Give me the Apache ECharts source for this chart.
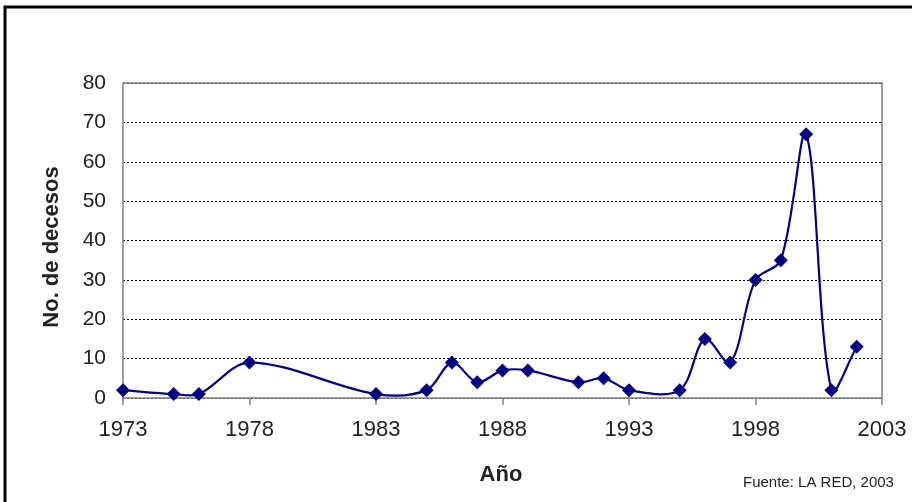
<!DOCTYPE html>
<html>
<head>
<meta charset="utf-8">
<script src="https://cdn.jsdelivr.net/npm/echarts@6/dist/echarts.min.js"></script>
<style>
  html, body { margin: 0; padding: 0; background: #fff; }
  #chart { width: 912px; height: 502px; }
</style>
</head>
<body>
<div id="chart"></div>
<script>
// Deaths per year
const years  = [1973, 1975, 1976, 1978, 1983, 1985, 1986, 1987, 1988, 1989, 1991, 1992, 1993, 1995, 1996, 1997, 1998, 1999, 2000, 2001, 2002];
const deaths = [2, 1, 1, 9, 1, 2, 9, 4, 7, 7, 4, 5, 2, 2, 15, 9, 30, 35, 67, 2, 13];
const yearStart = 1973;
const yearEnd = 2003;
const yTicks = [0, 10, 20, 30, 40, 50, 60, 70, 80];

// x is measured in years since the first year so ticks land on 1973, 1978, ...
const points = years.map((y, i) => [y - yearStart, deaths[i]]);

const NAVY = '#000080';
const font = '"Liberation Sans", Arial, sans-serif';

// Spreadsheet-style smoothed segment between point i and i+1:
// tangents follow the neighbours, weighted by segment lengths, no clamping.
function renderSegment(params, api) {
  const i = params.dataIndex;
  if (i >= points.length - 1) return null;
  const P = points.map(p => api.coord(p));
  const p0 = P[Math.max(i - 1, 0)], p1 = P[i], p2 = P[i + 1], p3 = P[Math.min(i + 2, P.length - 1)];
  const dist = (a, b) => Math.hypot(b[0] - a[0], b[1] - a[1]);
  const k = 1 / 3;
  const d01 = dist(p0, p1), d12 = dist(p1, p2), d23 = dist(p2, p3);
  const r1 = (d01 + d12) > 0 ? d12 / (d01 + d12) : 0;
  const r2 = (d12 + d23) > 0 ? d12 / (d12 + d23) : 0;
  const c1 = [p1[0] + (p2[0] - p0[0]) * k * r1, p1[1] + (p2[1] - p0[1]) * k * r1];
  const c2 = [p2[0] - (p3[0] - p1[0]) * k * r2, p2[1] - (p3[1] - p1[1]) * k * r2];
  return {
    type: 'bezierCurve',
    shape: { x1: p1[0], y1: p1[1], cpx1: c1[0], cpy1: c1[1], cpx2: c2[0], cpy2: c2[1], x2: p2[0], y2: p2[1] },
    style: { stroke: NAVY, lineWidth: 2.2, fill: 'none' }
  };
}

const chart = echarts.init(document.getElementById('chart'), null, { renderer: 'canvas' });

chart.setOption({
  backgroundColor: '#ffffff',
  animation: false,
  grid: { left: 123, right: 30, top: 83, bottom: 104, show: false },
  xAxis: {
    type: 'value',
    min: 0,
    max: yearEnd - yearStart,
    interval: 5,
    axisLine: { show: true, lineStyle: { color: '#808080', width: 1.5 } },
    axisTick: { show: true, length: 7, lineStyle: { color: '#808080', width: 1.5 } },
    axisLabel: {
      margin: 21,
      fontFamily: font, fontSize: 22, color: '#222',
      formatter: v => String(v + yearStart)
    },
    splitLine: { show: false }
  },
  yAxis: {
    type: 'value',
    min: yTicks[0],
    max: yTicks[yTicks.length - 1],
    interval: 10,
    axisLine: { show: true, lineStyle: { color: '#808080', width: 1.5 } },
    axisTick: { show: false },
    axisLabel: { margin: 17, fontFamily: font, fontSize: 21, color: '#222' },
    splitLine: { show: true, lineStyle: { color: '#000', width: 1, type: [2, 2] } }
  },
  graphic: [
    // outer frame
    { type: 'rect', shape: { x: 5, y: 7, width: 940, height: 540 },
      style: { fill: 'none', stroke: '#000', lineWidth: 3 }, z: 10 },
    // top and right edges of the plot area
    { type: 'polyline', shape: { points: [[123, 83], [882, 83], [882, 398]] },
      style: { fill: 'none', stroke: '#808080', lineWidth: 1.5 }, z: 1 },
    { type: 'text', x: 52, y: 247, rotation: Math.PI / 2,
      style: { text: 'No. de decesos', font: 'bold 22px ' + font, fill: '#222', align: 'center', verticalAlign: 'middle' } },
    { type: 'text', x: 501, y: 475,
      style: { text: 'Año', font: 'bold 22px ' + font, fill: '#222', align: 'center', verticalAlign: 'middle' } },
    { type: 'text', x: 743, y: 483,
      style: { text: 'Fuente: LA RED, 2003', font: '15px ' + font, fill: '#222', align: 'left', verticalAlign: 'middle' } }
  ],
  series: [
    {
      type: 'custom',
      data: points,
      renderItem: renderSegment,
      encode: { x: 0, y: 1 },
      z: 4
    },
    {
      type: 'line',
      data: points,
      symbol: 'diamond',
      symbolSize: 14,
      itemStyle: { color: NAVY },
      lineStyle: { width: 0, opacity: 0 },
      z: 5
    }
  ]
});
</script>
</body>
</html>
